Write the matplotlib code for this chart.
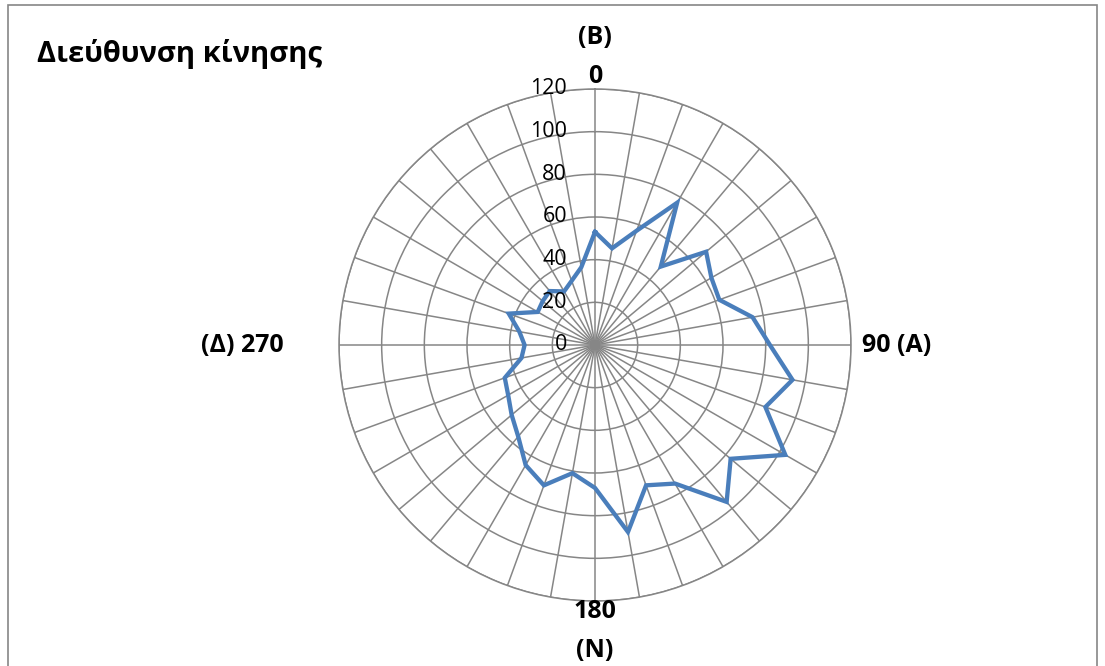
import numpy as np
import matplotlib
matplotlib.use('Agg')
import matplotlib.pyplot as plt
import matplotlib.transforms as mtransforms

plt.rcParams['font.family'] = ['Open Sans', 'DejaVu Sans']

# direction in degrees (clockwise from north) and counts
angles = list(range(0, 360, 10))
values = [53, 46, 57, 77, 48, 68, 63, 62, 75, 82, 94, 85,
          103, 83, 96, 75, 70, 89, 67, 61, 70, 65, 56, 51,
          47, 45, 35, 33, 36, 43, 31, 32, 33, 29, 32, 37]
r_ticks = [0, 20, 40, 60, 80, 100, 120]
title = 'Διεύθυνση κίνησης'

grid_col = '#868686'
line_col = '#4A7EBB'

fig = plt.figure(figsize=(11.05, 6.66), dpi=100)

# outer chart border
border = plt.Rectangle((8 / 1105, -0.01), 1089 / 1105, 1 - 5 / 666 + 0.01,
                       transform=fig.transFigure, fill=False,
                       edgecolor=grid_col, linewidth=1.2)
fig.patches.append(border)

cx, cy, rad = 595 / 1105, 1 - 345 / 666, 256
w, h = rad / 1105, rad / 666
ax = fig.add_axes([cx - w, cy - h, 2 * w, 2 * h], projection='polar')
ax.set_theta_zero_location('N')
ax.set_theta_direction(-1)

theta = np.deg2rad(angles + [angles[0]])
ax.plot(theta, values + [values[0]], color=line_col, linewidth=3.1,
        solid_joinstyle='miter', zorder=5)

ax.set_ylim(0, 120)
ax.set_thetagrids(angles, labels=[''] * len(angles))
ax.set_rgrids(r_ticks[1:], labels=[''] * (len(r_ticks) - 1))
ax.grid(True, color=grid_col, linewidth=1.1)
ax.spines['polar'].set_color(grid_col)
ax.spines['polar'].set_linewidth(1.1)
ax.tick_params(length=0, pad=0)

# radial value labels left of the north spoke
off = mtransforms.offset_copy(ax.transData, fig=fig, x=-28, y=0, units='dots')
for r in r_ticks:
    ax.text(0, r, str(r), transform=off, ha='right', va='center',
            fontsize=15.5, color='black', zorder=6)

bold = dict(fontsize=18, fontweight='bold', color='black')
ax.text(0, 126, '0', ha='center', va='center', **bold)
ax.text(0, 144, '(Β)', ha='center', va='center', **bold)
ax.text(np.pi / 2, 125, '90 (Α)', ha='left', va='center', **bold)
ax.text(np.pi, 125, '180', ha='center', va='center', **bold)
ax.text(np.pi, 143, '(Ν)', ha='center', va='center', **bold)
ax.text(3 * np.pi / 2, 146, '(Δ) 270', ha='right', va='center', **bold)

fig.text(37 / 1105, 1 - 54 / 666, title, ha='left', va='center',
         fontsize=21, fontweight='bold')

fig.savefig('out.png', dpi=100)
